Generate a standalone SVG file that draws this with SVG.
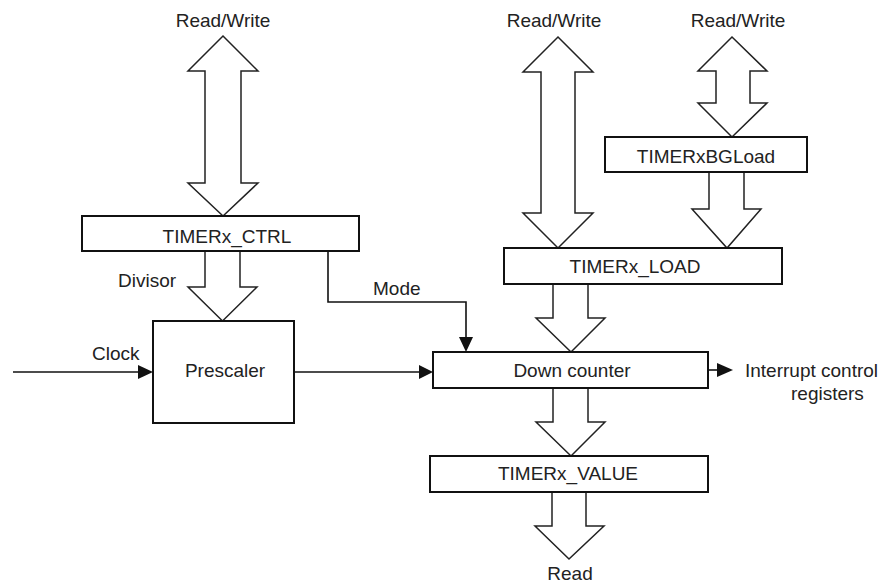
<svg xmlns="http://www.w3.org/2000/svg" width="885" height="583" viewBox="0 0 885 583">
<style>
.box{fill:#fff;stroke:#111;stroke-width:2}
.bus{fill:#fff;stroke:#222;stroke-width:1.5;stroke-linejoin:miter}
.wire{fill:none;stroke:#111;stroke-width:1.6}
.head{fill:#111;stroke:none}
text{font-family:"Liberation Sans",Arial,sans-serif;font-size:19px;fill:#222}
.c{text-anchor:middle}
</style>
<rect width="885" height="583" fill="#fff"/>
<g id="connectors">
  <polygon class="bus" points="223,36 258,71 241,71 241,183 258,183 223,216 188,183 205,183 205,71 188,71"/>
  <polyline class="bus" points="205,251 205,287 188,287 222.5,321 257,287 240,287 240,251"/>
  <polygon class="bus" points="558,37 593,72 575,72 575,213 593,213 558,248 523,213 541,213 541,72 523,72"/>
  <polygon class="bus" points="732,37 767,71 750,71 750,103 767,103 732,137 698,103 716,103 716,71 698,71"/>
  <polyline class="bus" points="709,172 709,209 692,209 727,248 761,209 744,209 744,172"/>
  <polyline class="bus" points="553,284 553,318 536,318 571,352 605,318 588,318 588,284"/>
  <polyline class="bus" points="553,388 553,422 536,422 571,456 605,422 588,422 588,388"/>
  <polyline class="bus" points="552,492 552,526 535,526 569,559 604,526 586,526 586,492"/>
  <polyline class="wire" points="328,251 328,302 466,302 466,338"/>
  <polygon class="head" points="459,337 473,337 466,352"/>
  <line class="wire" x1="13" y1="372" x2="139" y2="372"/>
  <polygon class="head" points="138,365 138,379 153,372"/>
  <line class="wire" x1="294" y1="372" x2="420" y2="372"/>
  <polygon class="head" points="419,365 419,379 433,372"/>
  <line class="wire" x1="708" y1="370" x2="718" y2="370"/>
  <polygon class="head" points="717,363 717,377 733,370"/>
  <text x="223" y="27" class="c">Read/Write</text>
  <text x="554" y="27" class="c">Read/Write</text>
  <text x="738" y="27" class="c">Read/Write</text>
  <text x="118" y="287">Divisor</text>
  <text x="373" y="295">Mode</text>
  <text x="92" y="360">Clock</text>
  <text x="745" y="377">Interrupt control</text>
  <text x="791" y="400">registers</text>
  <text x="570" y="580" class="c">Read</text>
</g>
<g id="ctrl"><rect class="box" x="82" y="216" width="277" height="35"/><text x="227" y="243" class="c">TIMERx_CTRL</text></g>
<g id="bgload"><rect class="box" x="605" y="137" width="202" height="35"/><text x="706" y="163" class="c">TIMERxBGLoad</text></g>
<g id="load"><rect class="box" x="504" y="248" width="278" height="36"/><text x="635" y="273" class="c">TIMERx_LOAD</text></g>
<g id="prescaler"><rect class="box" x="153" y="321" width="141" height="102"/><text x="225" y="377" class="c">Prescaler</text></g>
<g id="downcounter"><rect class="box" x="433" y="352" width="275" height="36"/><text x="572" y="377" class="c">Down counter</text></g>
<g id="value"><rect class="box" x="430" y="456" width="278" height="36"/><text x="568" y="480" class="c">TIMERx_VALUE</text></g>
</svg>
